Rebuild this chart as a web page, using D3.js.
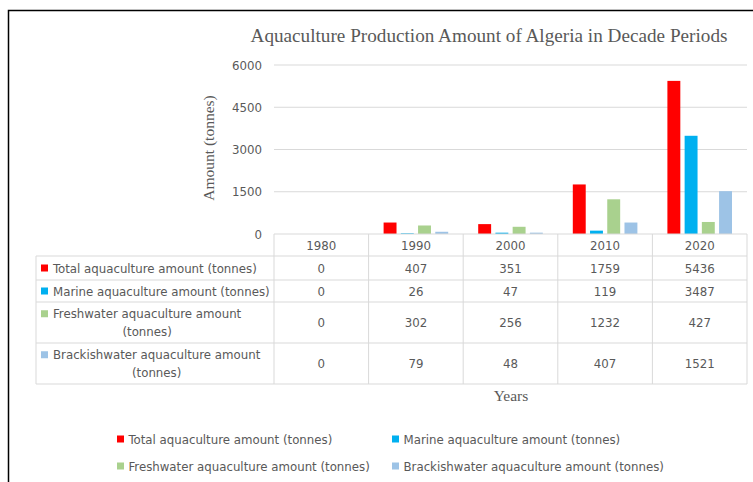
<!DOCTYPE html>
<html>
<head>
<meta charset="utf-8">
<script src="https://cdn.jsdelivr.net/npm/d3@7"></script>
<style>
  body { margin: 0; background: #fff; }
  svg { display: block; }
  .sans { font-family: "DejaVu Sans Condensed", "Liberation Sans Narrow", sans-serif; fill: #595959; font-size: 13.1px; }
  .serif { font-family: "Liberation Serif", "DejaVu Serif", serif; fill: #595959; }
</style>
</head>
<body>
<svg id="chart" width="753" height="482"></svg>
<script>
// data
const years = ['1980', '1990', '2000', '2010', '2020'];
const seriesNames = [
  'Total aquaculture amount (tonnes)',
  'Marine aquaculture amount (tonnes)',
  'Freshwater aquaculture amount (tonnes)',
  'Brackishwater aquaculture amount (tonnes)'
];
const seriesColors = ['#ff0000', '#00b0f0', '#a9d18e', '#9dc3e6'];
const totalValues = [0, 407, 351, 1759, 5436];
const marineValues = [0, 26, 47, 119, 3487];
const freshwaterValues = [0, 302, 256, 1232, 427];
const brackishValues = [0, 79, 48, 407, 1521];
const yTicks = [0, 1500, 3000, 4500, 6000];
// table row labels (wrapped as in the picture)
const rowLabels = [
  ['Total aquaculture amount (tonnes)'],
  ['Marine aquaculture amount (tonnes)'],
  ['Freshwater aquaculture amount', '(tonnes)'],
  ['Brackishwater aquaculture amount', '(tonnes)']
];

const seriesValues = [totalValues, marineValues, freshwaterValues, brackishValues];

const svg = d3.select('#chart');

// outer frame (right / bottom edges are outside the shot)
svg.append('rect')
  .attr('x', 8.5).attr('y', 10.5)
  .attr('width', 800).attr('height', 500)
  .attr('fill', 'none')
  .attr('stroke', '#000')
  .attr('stroke-width', 1.5);

const plotLeft = 274, plotRight = 747;
const x0 = d3.scaleBand().domain(years).range([plotLeft, plotRight]);
const x1 = d3.scaleBand().domain(d3.range(seriesNames.length))
  .range([15, x0.bandwidth() - 15]).paddingInner(0.25);
const y = d3.scaleLinear().domain([0, 6000]).range([234, 65]);

// gridlines
svg.append('g').selectAll('line')
  .data(yTicks.filter(d => d > 0))
  .join('line')
  .attr('x1', plotLeft).attr('x2', plotRight)
  .attr('y1', d => y(d)).attr('y2', d => y(d))
  .attr('stroke', '#d9d9d9').attr('stroke-width', 1);

// y tick labels
svg.append('g').selectAll('text')
  .data(yTicks)
  .join('text')
  .attr('class', 'sans')
  .attr('x', 262).attr('y', d => y(d))
  .attr('dy', '0.35em')
  .attr('text-anchor', 'end')
  .text(d => d);

// bars
const groups = svg.append('g').selectAll('g')
  .data(years)
  .join('g')
  .attr('transform', d => `translate(${x0(d)},0)`);

groups.selectAll('rect')
  .data((d, i) => seriesValues.map((vals, s) => ({ s, v: vals[i] })))
  .join('rect')
  .attr('x', d => x1(d.s))
  .attr('width', x1.bandwidth())
  .attr('y', d => y(d.v))
  .attr('height', d => y(0) - y(d.v))
  .attr('fill', d => seriesColors[d.s]);

// data table
const tableLeft = 36;
const rowEdges = [234, 256, 280, 302, 343, 384];
const grid = svg.append('g').attr('stroke', '#d9d9d9').attr('stroke-width', 1);

rowEdges.forEach((ry, i) => {
  grid.append('line')
    .attr('x1', i === 0 ? plotLeft : tableLeft).attr('x2', plotRight)
    .attr('y1', ry).attr('y2', ry);
});
grid.append('line')
  .attr('x1', tableLeft).attr('x2', tableLeft)
  .attr('y1', rowEdges[1]).attr('y2', rowEdges[5]);
x0.domain().concat([null]).forEach(yr => {
  const cx = yr === null ? plotRight : x0(yr);
  grid.append('line')
    .attr('x1', cx).attr('x2', cx)
    .attr('y1', rowEdges[0]).attr('y2', rowEdges[5]);
});

// header years
svg.append('g').selectAll('text')
  .data(years)
  .join('text')
  .attr('class', 'sans')
  .attr('x', d => x0(d) + x0.bandwidth() / 2)
  .attr('y', (rowEdges[0] + rowEdges[1]) / 2)
  .attr('dy', '0.35em')
  .attr('text-anchor', 'middle')
  .text(d => d);

// rows
seriesNames.forEach((name, s) => {
  const top = rowEdges[s + 1], bottom = rowEdges[s + 2];
  const mid = (top + bottom) / 2;
  const lines = rowLabels[s];
  const lineH = 17.5;
  const firstY = mid - (lines.length - 1) * lineH / 2;

  const row = svg.append('g');
  row.append('rect')
    .attr('x', 41).attr('y', firstY - 3.5)
    .attr('width', 7).attr('height', 7)
    .attr('fill', seriesColors[s]);

  const first = row.append('text')
    .attr('class', 'sans')
    .attr('x', 53).attr('y', firstY)
    .attr('dy', '0.35em')
    .text(lines[0]);
  const w = first.node().getComputedTextLength();
  lines.slice(1).forEach((ln, k) => {
    row.append('text')
      .attr('class', 'sans')
      .attr('x', 53 + w / 2).attr('y', firstY + (k + 1) * lineH)
      .attr('dy', '0.35em')
      .attr('text-anchor', 'middle')
      .text(ln);
  });

  row.selectAll('text.val')
    .data(seriesValues[s])
    .join('text')
    .attr('class', 'sans val')
    .attr('x', (d, i) => x0(years[i]) + x0.bandwidth() / 2)
    .attr('y', mid)
    .attr('dy', '0.35em')
    .attr('text-anchor', 'middle')
    .text(d => d);
});

// titles
svg.append('text')
  .attr('class', 'serif')
  .attr('x', 489).attr('y', 42)
  .attr('text-anchor', 'middle')
  .style('font-size', '19.2px')
  .text('Aquaculture Production Amount of Algeria  in Decade Periods');

svg.append('text')
  .attr('class', 'serif')
  .attr('transform', 'translate(214,148) rotate(-90)')
  .attr('text-anchor', 'middle')
  .style('font-size', '15.5px')
  .text('Amount (tonnes)');

svg.append('text')
  .attr('class', 'serif')
  .attr('x', 511).attr('y', 401)
  .attr('text-anchor', 'middle')
  .style('font-size', '15.5px')
  .text('Years');

// legend
const legend = svg.append('g').selectAll('g')
  .data(seriesNames)
  .join('g')
  .attr('transform', (d, i) => `translate(${i % 2 === 0 ? 117 : 392},${i < 2 ? 439 : 466})`);
legend.append('rect')
  .attr('x', 0).attr('y', -3.5)
  .attr('width', 7).attr('height', 7)
  .attr('fill', (d, i) => seriesColors[i]);
legend.append('text')
  .attr('class', 'sans')
  .attr('x', 11.5).attr('y', 0)
  .attr('dy', '0.35em')
  .text(d => d);
</script>
</body>
</html>
